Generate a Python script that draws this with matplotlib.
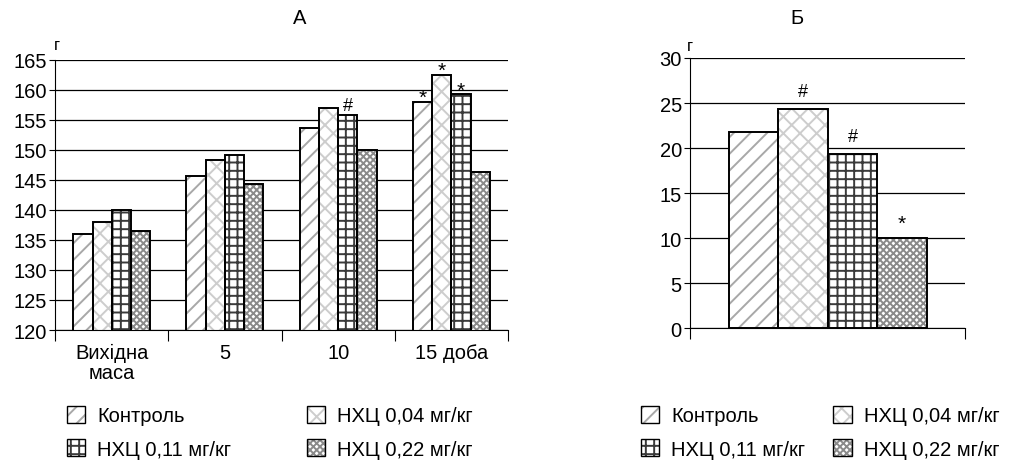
import matplotlib
matplotlib.use("Agg")
import matplotlib.pyplot as plt
import numpy as np
from matplotlib.patches import Patch
from matplotlib.legend_handler import HandlerTuple

plt.rcParams['font.family'] = ['Liberation Sans', 'DejaVu Sans']
plt.rcParams['hatch.linewidth'] = 1.4

# --- data ---
groups = ['Контроль', 'НХЦ 0,04 мг/кг', 'НХЦ 0,11 мг/кг', 'НХЦ 0,22 мг/кг']
days = ['Вихідна\nмаса', '5', '10', '15 доба']

mass_control = [135.9, 145.6, 153.6, 158.0]
mass_004 = [138.0, 148.3, 157.0, 162.5]
mass_011 = [139.9, 149.1, 155.7, 159.2]
mass_022 = [136.4, 144.3, 150.0, 146.3]

gain = [21.8, 24.3, 19.3, 10.0]

# significance marks: (group index, day index, mark)
marks_a = [(2, 2, '#'), (0, 3, '*'), (1, 3, '*'), (2, 3, '*')]
marks_b = [(1, '#'), (2, '#'), (3, '*')]

# --- styles ---
hatches = ['//', 'xx', '++', 'xxxxx']
hatch_cols = ['#a8a8a8', '#cdcdcd', '#3a3a3a', '#8a8a8a']
FS = 14.5

fig = plt.figure(figsize=(10.12, 4.64), dpi=100)


def draw_bars(ax, x, vals, width, i):
    ax.bar(x, vals, width, color='white', edgecolor=hatch_cols[i],
           hatch=hatches[i], linewidth=0, zorder=2)
    ax.bar(x, vals, width, fill=False, edgecolor='black',
           linewidth=1.4, zorder=3)


def style_axis(ax):
    ax.spines['top'].set_visible(False)
    ax.spines['right'].set_visible(False)
    ax.yaxis.grid(True, color='black', linewidth=0.9)
    ax.set_axisbelow(True)
    ax.tick_params(axis='y', direction='out', length=4, labelsize=FS, pad=2)
    ax.tick_params(axis='x', which='major', direction='out', length=8,
                   labelbottom=False)
    ax.tick_params(axis='x', which='minor', length=0, labelsize=FS, pad=9)


def mark_size(m):
    return 15 if m == '*' else 13


# ---------------- panel A ----------------
axA = fig.add_axes([0.0545, 0.2866, 0.4475, 0.583])
series_a = [mass_control, mass_004, mass_011, mass_022]
w = 0.17
x = np.arange(len(days))
for i, vals in enumerate(series_a):
    draw_bars(axA, x + (i - 1.5) * w, vals, w, i)

for gi, di, m in marks_a:
    axA.annotate(m, (x[di] + (gi - 1.5) * w, series_a[gi][di]),
                 xytext=(0, -4 if m == '*' else 1), textcoords='offset points',
                 ha='center', va='bottom', fontsize=mark_size(m))

axA.set_ylim(120, 165)
axA.set_yticks(np.arange(120, 166, 5))
axA.set_xlim(-0.5, len(days) - 0.5)
axA.set_xticks(np.arange(-0.5, len(days), 1))
axA.set_xticks(x, minor=True)
axA.set_xticklabels(days, minor=True)
style_axis(axA)
for t in axA.get_xticklabels(minor=True):
    t.set_linespacing(1.1)

fig.text(300 / 1012, 1 - 18 / 464, 'А', ha='center', va='center', fontsize=FS)
fig.text(57 / 1012, 1 - 46 / 464, 'г', ha='center', va='center', fontsize=12)

# ---------------- panel B ----------------
axB = fig.add_axes([0.682, 0.290, 0.272, 0.583])
wb = 0.18
xb = (np.arange(len(gain)) - 1.5) * wb
for i in range(len(gain)):
    draw_bars(axB, xb[i], gain[i], wb, i)

for gi, m in marks_b:
    axB.annotate(m, (xb[gi], gain[gi]),
                 xytext=(0, 4 if m == '*' else 7),
                 textcoords='offset points', ha='center', va='bottom',
                 fontsize=mark_size(m))

axB.set_ylim(0, 30)
axB.set_yticks(np.arange(0, 31, 5))
axB.set_xlim(-0.5, 0.5)
axB.set_xticks([-0.5, 0.5])
axB.set_xticks([0], minor=True)
axB.set_xticklabels([''], minor=True)
style_axis(axB)

fig.text(797 / 1012, 1 - 18 / 464, 'Б', ha='center', va='center', fontsize=FS)
fig.text(690 / 1012, 1 - 47 / 464, 'г', ha='center', va='center', fontsize=12)

# ---------------- legends ----------------
handles = []
for i in range(len(groups)):
    hp = Patch(facecolor='white', edgecolor=hatch_cols[i], hatch=hatches[i],
               linewidth=0)
    op = Patch(fill=False, edgecolor='black', linewidth=1.0)
    handles.append((hp, op))

order = [0, 2, 1, 3]
legend_specs = [((67 / 1012, 1 - 407 / 464), 3.75),
                ((641 / 1012, 1 - 407 / 464), 1.4)]
for anchor, colsp in legend_specs:
    fig.legend([handles[k] for k in order], [groups[k] for k in order],
               handler_map={tuple: HandlerTuple(ndivide=1, pad=0)},
               loc='upper left', bbox_to_anchor=anchor, ncol=2,
               frameon=False, fontsize=FS, handlelength=0.9,
               handleheight=0.9, handletextpad=0.6, columnspacing=colsp,
               labelspacing=0.7, borderaxespad=0, borderpad=0)

fig.savefig('out.png', dpi=100)
